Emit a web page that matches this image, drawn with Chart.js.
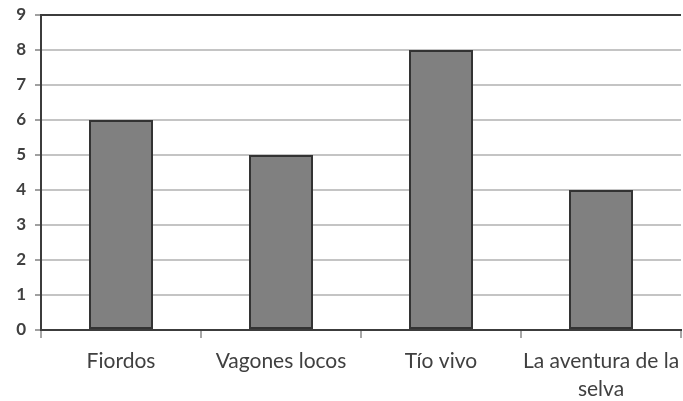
<!DOCTYPE html>
<html>
<head>
<meta charset="utf-8">
<script src="https://cdn.jsdelivr.net/npm/chart.js@4"></script>
<style>
  html, body { margin: 0; padding: 0; background: #fff; }
  #chart { display: block; }
</style>
</head>
<body>
<canvas id="chart" width="683" height="401"></canvas>
<script>
// chart data
const categories = ['Fiordos', 'Vagones locos', 'Tío vivo', ['La aventura de la', 'selva']];
const visitors = [6, 5, 8, 4];
const yTicks = [0, 1, 2, 3, 4, 5, 6, 7, 8, 9];

const textColor = '#404040';
const fontFamily = 'Lato, "Open Sans", sans-serif';

const ctx = document.getElementById('chart').getContext('2d');
new Chart(ctx, {
  type: 'bar',
  data: {
    labels: categories,
    datasets: [{
      data: visitors,
      backgroundColor: '#808080',
      borderColor: '#333333',
      borderWidth: 2,
      borderSkipped: false,
      categoryPercentage: 0.4,
      barPercentage: 1
    }]
  },
  options: {
    responsive: false,
    animation: false,
    layout: { padding: { top: 15, right: 2, left: 0, bottom: 0 } },
    plugins: {
      legend: { display: false },
      tooltip: { enabled: false }
    },
    scales: {
      x: {
        grid: {
          offset: true,
          drawOnChartArea: true,
          color: (c) => c.index === categories.length ? '#a8a8a8' : 'rgba(0,0,0,0)',
          tickColor: '#a8a8a8',
          tickLength: 8,
          lineWidth: 2
        },
        border: { color: '#3c3c3c', width: 2 },
        ticks: {
          color: textColor,
          font: { family: fontFamily, size: 21, lineHeight: 1.3 },
          padding: 10,
          maxRotation: 0,
          autoSkip: false
        },
        afterFit: (scale) => {
          scale.height = 71;
          scale.paddingLeft = 0;
          scale.paddingRight = 0;
        }
      },
      y: {
        min: 0,
        max: 9,
        afterBuildTicks: (scale) => { scale.ticks = yTicks.map(v => ({ value: v })); },
        grid: {
          color: (c) => c.tick && c.tick.value === 9 ? '#3c3c3c' : '#c4c4c4',
          lineWidth: 2,
          tickColor: '#a0a0a0',
          tickLength: 6
        },
        border: { color: '#3c3c3c', width: 2 },
        ticks: {
          color: textColor,
          font: { family: fontFamily, size: 17, weight: 'bold' },
          padding: 9
        },
        afterFit: (scale) => {
          scale.width = 41;
          scale.paddingTop = 0;
          scale.paddingBottom = 0;
        }
      }
    }
  }
});
</script>
</body>
</html>
